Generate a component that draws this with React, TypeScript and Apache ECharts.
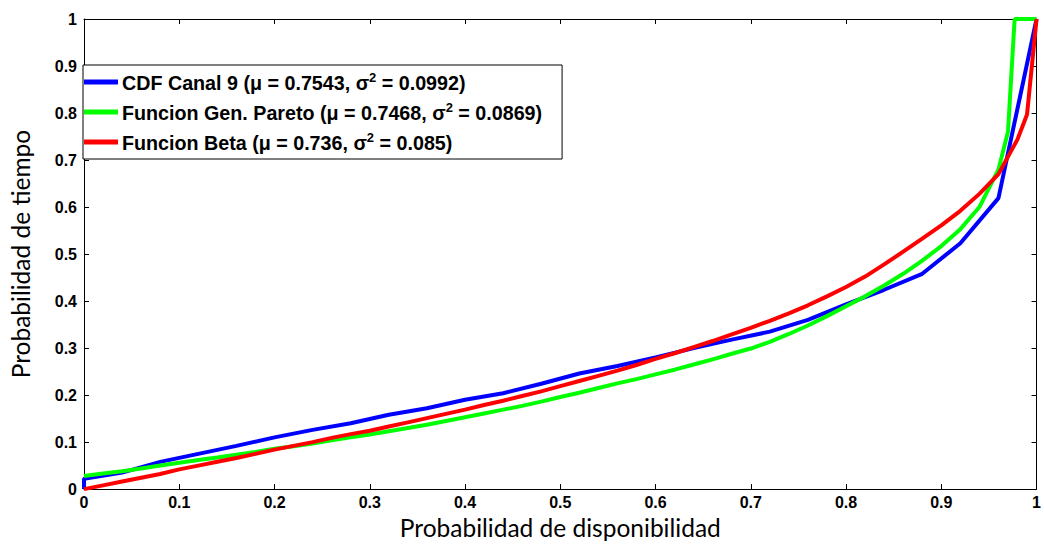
import React, { useEffect, useRef } from "react";
import * as echarts from "echarts";

// CDF empírica (pasos de 0.04)
const canalX = [0, 0, 0.04, 0.08, 0.12, 0.16, 0.2, 0.24, 0.28, 0.32, 0.36, 0.4, 0.44, 0.48, 0.52, 0.56, 0.6, 0.64, 0.68, 0.72, 0.76, 0.8, 0.84, 0.88, 0.92, 0.96, 1.0];
const canalY = [0, 0.022, 0.035, 0.058, 0.075, 0.092, 0.11, 0.126, 0.14, 0.158, 0.172, 0.19, 0.204, 0.224, 0.246, 0.262, 0.28, 0.3, 0.318, 0.335, 0.36, 0.393, 0.424, 0.458, 0.523, 0.619, 1.0];

// Pareto generalizada
const paretoX = [0, 0.02, 0.04, 0.06, 0.08, 0.1, 0.12, 0.14, 0.16, 0.18, 0.2, 0.22, 0.24, 0.26, 0.28, 0.3, 0.32, 0.34, 0.36, 0.38, 0.4, 0.42, 0.44, 0.46, 0.48, 0.5, 0.52, 0.54, 0.56, 0.58, 0.6, 0.62, 0.64, 0.66, 0.68, 0.7, 0.72, 0.74, 0.76, 0.78, 0.8, 0.82, 0.84, 0.86, 0.88, 0.9, 0.92, 0.94, 0.96, 0.97, 0.977, 1.0];
const paretoY = [0.028, 0.033, 0.038, 0.044, 0.05, 0.056, 0.062, 0.067, 0.073, 0.079, 0.086, 0.091, 0.097, 0.104, 0.11, 0.116, 0.123, 0.13, 0.137, 0.145, 0.153, 0.161, 0.169, 0.177, 0.186, 0.196, 0.205, 0.215, 0.225, 0.234, 0.244, 0.254, 0.265, 0.276, 0.288, 0.299, 0.313, 0.33, 0.348, 0.368, 0.389, 0.41, 0.433, 0.458, 0.486, 0.517, 0.553, 0.6, 0.68, 0.76, 1.0, 1.0];

// Beta
const betaX = [0, 0.02, 0.04, 0.06, 0.08, 0.1, 0.12, 0.14, 0.16, 0.18, 0.2, 0.22, 0.24, 0.26, 0.28, 0.3, 0.32, 0.34, 0.36, 0.38, 0.4, 0.42, 0.44, 0.46, 0.48, 0.5, 0.52, 0.54, 0.56, 0.58, 0.6, 0.62, 0.64, 0.66, 0.68, 0.7, 0.72, 0.74, 0.76, 0.78, 0.8, 0.82, 0.84, 0.86, 0.88, 0.9, 0.92, 0.94, 0.96, 0.98, 0.99, 1.0];
const betaY = [0, 0.008, 0.016, 0.024, 0.032, 0.042, 0.05, 0.058, 0.066, 0.075, 0.084, 0.092, 0.1, 0.109, 0.117, 0.124, 0.133, 0.142, 0.151, 0.16, 0.169, 0.179, 0.188, 0.198, 0.208, 0.219, 0.23, 0.241, 0.252, 0.264, 0.277, 0.289, 0.302, 0.315, 0.329, 0.343, 0.358, 0.374, 0.391, 0.41, 0.43, 0.452, 0.478, 0.505, 0.533, 0.561, 0.592, 0.628, 0.67, 0.744, 0.797, 1.0];

const seriesNames = ["CDF Canal 9", "Funcion Gen. Pareto", "Funcion Beta"];
const seriesColors = ["#0000ff", "#00ff00", "#ff0000"];
const legendLabels = [
  "{t|CDF Canal 9 (μ = 0.7543, σ}{sup|2}{t| = 0.0992)}",
  "{t|Funcion Gen. Pareto (μ = 0.7468, σ}{sup|2}{t| = 0.0869)}",
  "{t|Funcion Beta (μ = 0.736, σ}{sup|2}{t| = 0.085)}",
];

const zip = (xs: number[], ys: number[]) => xs.map((x, i) => [x, ys[i]]);

const labelFont = "'Liberation Sans', Arial, sans-serif";
const titleFont = "Lato, 'Open Sans', sans-serif";

const App: React.FC = () => {
  const chartRef = useRef<HTMLDivElement>(null);

  useEffect(() => {
    if (!chartRef.current) return;
    const chart = echarts.init(chartRef.current, undefined, { renderer: "svg" });

    const baseAxis = {
      type: "value",
      min: 0,
      max: 1,
      interval: 0.1,
      splitLine: { show: false },
      axisLine: { show: true, onZero: false, lineStyle: { color: "#000", width: 1 } },
      axisTick: { show: true, inside: true, length: 5, lineStyle: { color: "#000" } },
    };
    const tickLabel = {
      color: "#000",
      fontFamily: labelFont,
      fontWeight: "bold",
      fontSize: 16,
    };

    chart.setOption({
      animation: false,
      backgroundColor: "#fff",
      grid: { left: 83, right: 2, top: 19, bottom: 54, containLabel: false },
      xAxis: [
        {
          ...baseAxis,
          position: "bottom",
          name: "Probabilidad de disponibilidad",
          nameLocation: "middle",
          nameGap: 24,
          nameTextStyle: { color: "#000", fontFamily: titleFont, fontSize: 24.5 },
          axisLabel: { ...tickLabel, margin: 5 },
        },
        { ...baseAxis, position: "top", axisLabel: { show: false } },
      ],
      yAxis: [
        {
          ...baseAxis,
          position: "left",
          name: "Probabilidad de tiempo",
          nameLocation: "middle",
          nameGap: 51,
          nameTextStyle: { color: "#000", fontFamily: titleFont, fontSize: 24.5 },
          axisLabel: { ...tickLabel, margin: 7 },
        },
        { ...baseAxis, position: "right", axisLabel: { show: false } },
      ],
      legend: {
        orient: "vertical",
        left: 83,
        top: 65,
        backgroundColor: "#fff",
        borderColor: "#000",
        borderWidth: 1,
        borderRadius: 0,
        padding: [6, 20, 6, 1],
        itemGap: 8,
        itemWidth: 34,
        itemHeight: 5,
        icon: "rect",
        data: seriesNames,
        formatter: (name: string) => legendLabels[seriesNames.indexOf(name)],
        textStyle: {
          color: "#000",
          fontFamily: labelFont,
          fontWeight: "bold",
          fontSize: 19.7,
          padding: [0, 0, 0, -1],
          rich: {
            t: { color: "#000", fontFamily: labelFont, fontWeight: "bold", fontSize: 19.7, lineHeight: 22, verticalAlign: "bottom" },
            sup: { color: "#000", fontFamily: labelFont, fontWeight: "bold", fontSize: 13, lineHeight: 22, verticalAlign: "top" },
          },
        },
      },
      series: [
        { x: canalX, y: canalY },
        { x: paretoX, y: paretoY },
        { x: betaX, y: betaY },
      ].map((s, i) => ({
        name: seriesNames[i],
        type: "line",
        xAxisIndex: 0,
        yAxisIndex: 0,
        data: zip(s.x, s.y),
        showSymbol: false,
        symbol: "none",
        clip: false,
        color: seriesColors[i],
        lineStyle: { color: seriesColors[i], width: 4 },
        itemStyle: { color: seriesColors[i] },
        z: 2 + i,
      })),
    });

    return () => {
      chart.dispose();
    };
  }, []);

  return (
    <div
      ref={chartRef}
      style={{ position: "fixed", left: 0, top: 0, width: 1044, height: 545 }}
    />
  );
};

export default App;
